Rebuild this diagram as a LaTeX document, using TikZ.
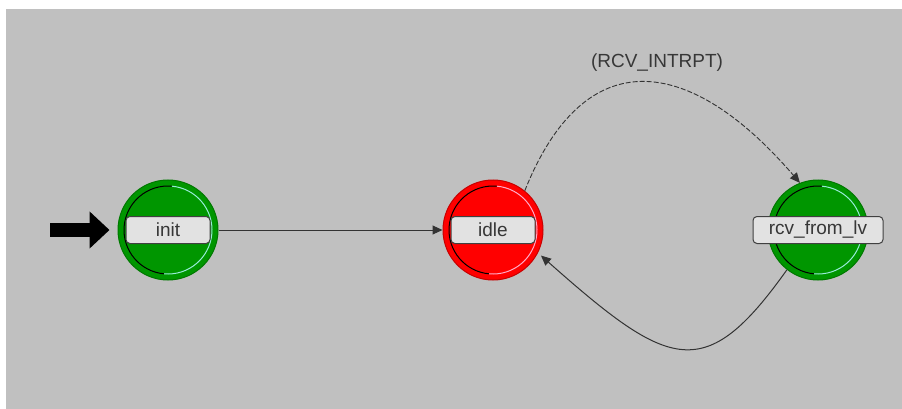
\documentclass[tikz,border=0pt]{standalone}
\usepackage{fontspec}
\setmainfont{Liberation Sans}
\usetikzlibrary{arrows.meta}
\definecolor{bg}{RGB}{192,192,192}
\definecolor{stgreen}{RGB}{0,150,0}
\definecolor{stred}{RGB}{255,0,0}
\definecolor{rimgreen}{RGB}{0,120,0}
\definecolor{rimred}{RGB}{200,0,0}
\definecolor{bevlight}{RGB}{150,235,215}
\definecolor{bevpink}{RGB}{255,170,200}
\definecolor{lblfill}{RGB}{226,226,226}
\definecolor{txt}{RGB}{55,55,55}
\begin{document}
\begin{tikzpicture}[x=1pt,y=-1pt,
  state/.style={circle, minimum size=100pt, inner sep=0pt, line width=1pt},
  lbl/.style={draw=black!75, fill=lblfill, rounded corners=4pt, minimum height=27pt,
    inner sep=2pt, font=\fontsize{19}{20}\selectfont, text=txt, line width=1pt},
  trans/.style={line width=1pt, draw=black!80, -{Triangle[length=10pt,width=9pt]}},
  bevdark/.style={line width=1pt, draw=black},
  txtlabel/.style={font=\fontsize{19}{20}\selectfont, text=txt}
]
\useasboundingbox (0,0) rectangle (902,409);
\fill[white] (0,0) rectangle (902,409);
\fill[bg] (6,9) rectangle (902,409);

% states
\node[state, fill=stgreen, draw=rimgreen] (init) at (168,230) {};
\node[state, fill=stred, draw=rimred] (idle) at (493,230) {};
\node[state, fill=stgreen, draw=rimgreen] (rcv) at (818,230) {};

% bevel arcs
\foreach \s/\lc in {init/bevlight, idle/bevpink, rcv/bevlight}{
  \draw[bevdark] ([shift={(85:44pt)}]\s.center) arc[start angle=85, end angle=265, radius=44pt];
  \draw[line width=1pt, draw=\lc] ([shift={(265:44pt)}]\s.center) arc[start angle=265, end angle=445, radius=44pt];
}

% labels
\node[lbl, minimum width=84pt] (initl) at (init.center) {init};
\node[lbl, minimum width=84pt] (idlel) at (idle.center) {idle};
\node[lbl, minimum width=130pt] (rcvl) at (rcv.center) {rcv\_from\_lv};

% initial marker
\coordinate (start) at (50,230);
\draw[line width=14pt, -{Triangle[length=20pt,width=36pt]}] (start) -- ([xshift=-8pt]init.west);

% transitions
\draw[trans] (init) -- (idle);
\draw[trans, dash pattern=on 5pt off 2pt, line width=0.9pt] (idle.51) .. controls (585,40) and (690,55) .. (rcv.111);
\draw[trans, shorten >=4pt] (rcv.232) .. controls (705,385) and (670,370) .. (idle.-27);

\node[txtlabel] (cond) at (657,63) {(RCV\_INTRPT)};
\end{tikzpicture}
\end{document}
